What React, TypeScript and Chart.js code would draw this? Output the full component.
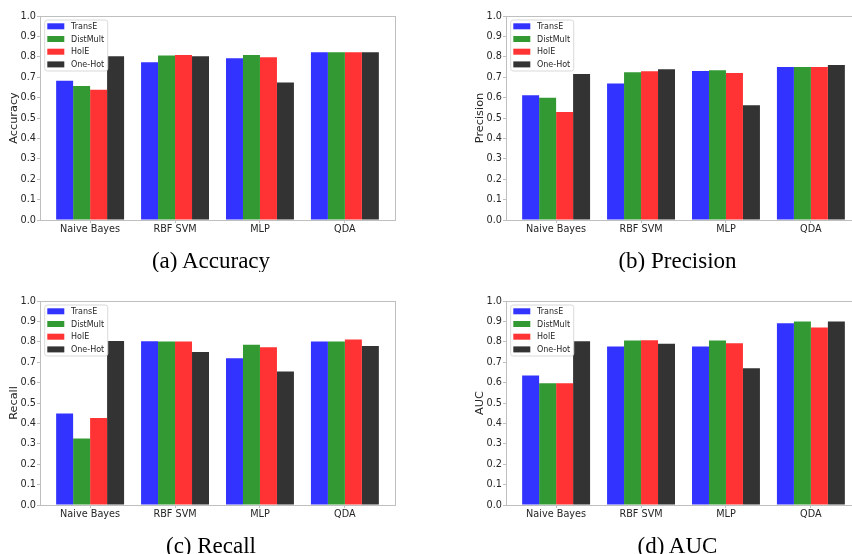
import React, { useEffect, useRef } from "react";
import { Chart, registerables } from "chart.js";

Chart.register(...registerables);

const categories = ["Naive Bayes", "RBF SVM", "MLP", "QDA"];
const methods = ["TransE", "DistMult", "HolE", "One-Hot"];
const methodColors = ["#3333ff", "#339933", "#ff3333", "#333333"];
const yTicks = [0, 0.1, 0.2, 0.3, 0.4, 0.5, 0.6, 0.7, 0.8, 0.9, 1.0];

// rows: TransE, DistMult, HolE, One-Hot ; columns: categories
const accuracyValues = [
  [0.682, 0.773, 0.793, 0.822],
  [0.657, 0.806, 0.809, 0.822],
  [0.638, 0.809, 0.798, 0.822],
  [0.803, 0.803, 0.674, 0.822],
];
const precisionValues = [
  [0.612, 0.669, 0.731, 0.75],
  [0.599, 0.724, 0.734, 0.75],
  [0.53, 0.729, 0.721, 0.75],
  [0.716, 0.739, 0.563, 0.76],
];
const recallValues = [
  [0.449, 0.803, 0.719, 0.801],
  [0.326, 0.801, 0.786, 0.801],
  [0.426, 0.801, 0.773, 0.811],
  [0.804, 0.75, 0.654, 0.78],
];
const aucValues = [
  [0.635, 0.777, 0.777, 0.891],
  [0.597, 0.806, 0.806, 0.9],
  [0.597, 0.808, 0.793, 0.87],
  [0.803, 0.791, 0.67, 0.9],
];

const FRAME = "#bfbfbf";
const TEXT = "#262626";

const framePlugin = {
  id: "frame",
  afterDraw(chart: any) {
    const { ctx, chartArea } = chart;
    ctx.save();
    ctx.strokeStyle = FRAME;
    ctx.lineWidth = 1;
    const l = Math.round(chartArea.left) + 0.5;
    const t = Math.round(chartArea.top) + 0.5;
    const r = Math.round(chartArea.right) + 0.5;
    const b = Math.round(chartArea.bottom) + 0.5;
    ctx.strokeRect(l, t, r - l, b - t);
    ctx.restore();
  },
};

const boxLegendPlugin = {
  id: "boxLegend",
  afterDraw(chart: any) {
    const { ctx, chartArea } = chart;
    const ds = chart.data.datasets;
    ctx.save();
    ctx.font = "8px 'DejaVu Sans'";
    const textW = Math.max(...ds.map((d: any) => ctx.measureText(d.label).width));
    const bx = chartArea.left + 4.7;
    const by = chartArea.top + 4;
    const bw = 26.3 + textW + 3.5;
    const bh = 51;
    ctx.beginPath();
    (ctx as any).roundRect(bx, by, bw, bh, 2.5);
    ctx.fillStyle = "rgba(255,255,255,0.85)";
    ctx.fill();
    ctx.strokeStyle = "#d9d9d9";
    ctx.lineWidth = 1;
    ctx.stroke();
    ds.forEach((d: any, i: number) => {
      const cy = by + 6.3 + i * 12.7;
      ctx.fillStyle = d.backgroundColor;
      ctx.fillRect(bx + 2.6, cy - 3, 17, 6);
      ctx.fillStyle = TEXT;
      ctx.textBaseline = "middle";
      ctx.textAlign = "left";
      ctx.fillText(d.label, bx + 26.3, cy + 0.5);
    });
    ctx.restore();
  },
};

function BarPanel({ yLabel, values, left, top }: { yLabel: string; values: number[][]; left: number; top: number }) {
  const ref = useRef<HTMLCanvasElement>(null);
  useEffect(() => {
    const chart = new Chart(ref.current as HTMLCanvasElement, {
      type: "bar",
      data: {
        datasets: methods.map((m, mi) => ({
          label: m,
          data: categories.map((_, ci) => ({ x: ci, y: values[mi][ci] })),
          backgroundColor: methodColors[mi],
          borderWidth: 0,
          categoryPercentage: 0.8,
          barPercentage: 1.0,
        })),
      },
      options: {
        responsive: false,
        animation: false,
        layout: { padding: { left: 0, top: 16, right: 31, bottom: 0 } },
        plugins: { legend: { display: false }, tooltip: { enabled: false } },
        scales: {
          x: {
            type: "linear",
            min: -0.59,
            max: 3.59,
            offset: false,
            afterBuildTicks: (scale: any) => {
              scale.ticks = categories.map((_, i) => ({ value: i }));
            },
            afterFit: (scale: any) => {
              scale.height = 30;
            },
            grid: { display: true, drawOnChartArea: false, drawTicks: true, tickLength: 3, color: FRAME, offset: false },
            border: { display: false },
            ticks: {
              autoSkip: false,
              maxRotation: 0,
              padding: 1,
              color: TEXT,
              font: { family: "DejaVu Sans", size: 9.7 },
              callback: (v: any) => categories[Math.round(Number(v))] ?? "",
            },
          },
          y: {
            type: "linear",
            min: 0,
            max: 1,
            afterBuildTicks: (scale: any) => {
              scale.ticks = yTicks.map((v) => ({ value: v }));
            },
            afterFit: (scale: any) => {
              scale.width = 40;
            },
            grid: { display: true, drawOnChartArea: false, drawTicks: true, tickLength: 3, color: FRAME },
            border: { display: false },
            ticks: {
              padding: 1,
              color: TEXT,
              font: { family: "DejaVu Sans", size: 9.7 },
              callback: (v: any) => Number(v).toFixed(1),
            },
            title: {
              display: true,
              text: yLabel,
              color: TEXT,
              font: { family: "DejaVu Sans", size: 11.3, lineHeight: 1.2 },
              padding: { top: 7.2, bottom: 0 },
            },
          },
        },
      } as any,
      plugins: [framePlugin, boxLegendPlugin],
    });
    return () => chart.destroy();
  }, []);
  return (
    <canvas
      ref={ref}
      width={426}
      height={250}
      style={{ position: "absolute", left, top, width: 426, height: 250 }}
    />
  );
}

const captionStyle: React.CSSProperties = {
  position: "absolute",
  width: 300,
  textAlign: "center",
  fontFamily: "'Liberation Serif', 'Times New Roman', serif",
  fontSize: 23,
  lineHeight: "26px",
  whiteSpace: "nowrap",
  color: "#000",
  overflow: "hidden",
};

export default function App() {
  return (
    <div
      style={{
        position: "absolute",
        left: 0,
        top: 0,
        width: 852,
        height: 554,
        overflow: "hidden",
        background: "#fff",
      }}
    >
      <BarPanel yLabel="Accuracy" values={accuracyValues} left={0} top={0} />
      <BarPanel yLabel="Precision" values={precisionValues} left={466} top={0} />
      <BarPanel yLabel="Recall" values={recallValues} left={0} top={285} />
      <BarPanel yLabel="AUC" values={aucValues} left={466} top={285} />
      <div style={{ ...captionStyle, left: 211 - 150, top: 248, height: 24 }}>(a) Accuracy</div>
      <div style={{ ...captionStyle, left: 677.5 - 150, top: 248, height: 24 }}>(b) Precision</div>
      <div style={{ ...captionStyle, left: 211 - 150, top: 533, height: 26 }}>(c) Recall</div>
      <div style={{ ...captionStyle, left: 677.5 - 150, top: 533, height: 26 }}>(d) AUC</div>
    </div>
  );
}
